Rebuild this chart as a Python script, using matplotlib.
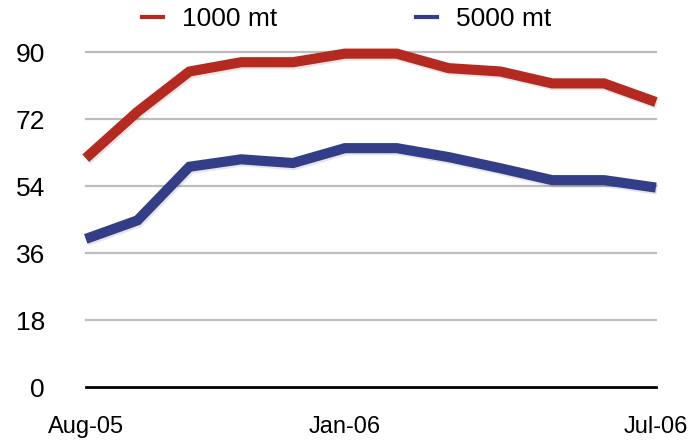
import matplotlib
matplotlib.use("Agg")
import matplotlib.pyplot as plt
import matplotlib.patheffects as pe
from matplotlib.lines import Line2D

months = ["Aug-05", "Sep-05", "Oct-05", "Nov-05", "Dec-05", "Jan-06",
          "Feb-06", "Mar-06", "Apr-06", "May-06", "Jun-06", "Jul-06"]
shown_labels = {"Aug-05", "Jan-06", "Jul-06"}
mt1000 = [61.5, 74, 84.8, 87.3, 87.3, 89.6, 89.6, 85.7, 84.8, 81.6, 81.6, 76.6]
mt5000 = [39.8, 44.8, 59.2, 61.2, 60.2, 64.2, 64.2, 61.8, 58.8, 55.6, 55.6, 53.6]
yticks = [0, 18, 36, 54, 72, 90]

red = "#B42A20"
blue = "#323F88"

plt.rcParams["font.family"] = ["Liberation Sans", "DejaVu Sans"]

fig = plt.figure(figsize=(6.97, 4.42), dpi=100)
ax = fig.add_axes([0.123, 0.1244, 0.818, 0.7576])

x = list(range(len(months)))
shadow = [pe.SimpleLineShadow(offset=(1, -1.5), shadow_color="black", alpha=0.1),
          pe.Normal()]
ax.plot(x, mt1000, color=red, lw=7.3, solid_joinstyle="miter",
        solid_capstyle="butt", clip_on=False, zorder=3, path_effects=shadow)
ax.plot(x, mt5000, color=blue, lw=7.3, solid_joinstyle="miter",
        solid_capstyle="butt", clip_on=False, zorder=3, path_effects=shadow)

ax.set_xlim(0, len(months) - 1)
ax.set_ylim(0, 90)
ax.set_yticks(yticks)
ax.set_yticklabels([str(v) for v in yticks], fontsize=19)
for v in yticks[1:]:
    ax.axhline(v, color="#BDBDBD", lw=1.6, zorder=1, clip_on=False)
ax.axhline(0, color="black", lw=2, zorder=2, clip_on=False)

ax.set_xticks(x)
ax.set_xticklabels([m if m in shown_labels else "" for m in months], fontsize=17)
ax.tick_params(axis="x", length=0, pad=21)
ax.tick_params(axis="y", length=0, pad=29.5)
for s in ax.spines.values():
    s.set_visible(False)

handles = [Line2D([], [], color=red, lw=3), Line2D([], [], color=blue, lw=3)]
fig.legend(handles, ["1000 mt", "5000 mt"], loc="center",
           bbox_to_anchor=(0.497, 0.957), ncol=2, frameon=False, fontsize=19,
           handlelength=0.8, handletextpad=0.72, columnspacing=5.27,
           borderpad=0, borderaxespad=0)

fig.savefig("out.png", dpi=100)
